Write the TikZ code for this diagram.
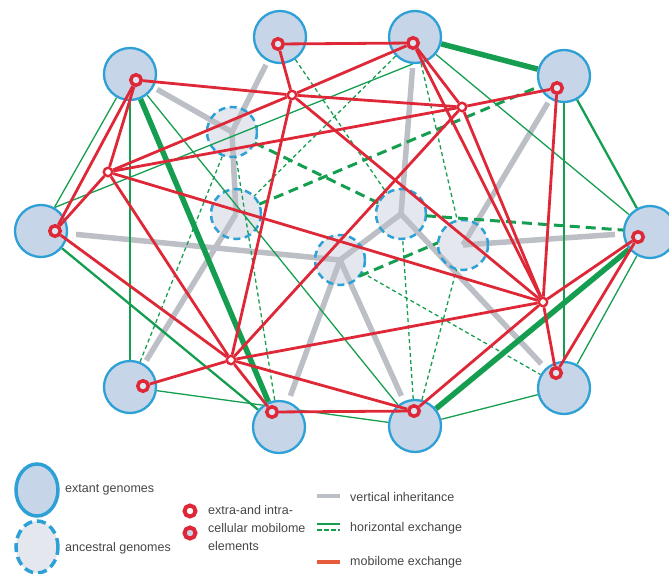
\documentclass[tikz,border=0pt]{standalone}
\usepackage{fontspec}
\setmainfont{Liberation Sans}
\usetikzlibrary{shapes.geometric}
\definecolor{mred}{RGB}{222,40,55}
\definecolor{hgreen}{RGB}{22,158,80}
\definecolor{vgray}{RGB}{188,191,197}
\definecolor{bblue}{RGB}{45,160,214}
\definecolor{extfill}{RGB}{198,213,232}
\definecolor{ancfill}{RGB}{228,232,238}
\definecolor{txtgray}{RGB}{70,70,70}
\definecolor{legred}{RGB}{232,90,60}
\pgfdeclarelayer{l0}\pgfdeclarelayer{l1}\pgfdeclarelayer{l2}\pgfdeclarelayer{l3}\pgfdeclarelayer{l4}\pgfdeclarelayer{l5}
\pgfsetlayers{l0,l1,l2,l3,l4,l5,main}
\begin{document}
\begin{tikzpicture}[x=1pt,y=-1pt,
  ext/.style={circle,draw=bblue,line width=2.3pt,fill=extfill,minimum size=52pt,inner sep=0pt},
  ancf/.style={circle,fill=ancfill,minimum size=50pt,inner sep=0pt},
  ancb/.style={circle,draw=bblue,line width=2.5pt,dash pattern=on 7pt off 4.5pt,minimum size=50pt,inner sep=0pt},
  ring/.style={circle,draw=mred,line width=3.5pt,fill=extfill!60!white,minimum size=10.5pt,inner sep=0pt},
  junc/.style={circle,draw=mred,line width=2.4pt,fill=white,minimum size=8.5pt,inner sep=0pt},
  vert/.style={vgray,line width=5.5pt},
  gthin/.style={hgreen,line width=1.3pt},
  gmid/.style={hgreen,line width=2.3pt},
  gthick/.style={hgreen,line width=5.5pt},
  gdash/.style={hgreen,line width=1.3pt,dash pattern=on 4pt off 3pt},
  gdashw/.style={hgreen,line width=3pt,dash pattern=on 10pt off 6pt},
  mob/.style={mred,line width=2.8pt},
  lab/.style={anchor=west,text=txtgray,font=\fontsize{12.5}{14}\selectfont,inner sep=0pt},
]
\useasboundingbox (0,0) rectangle (669,573);

% ancestral genome fills
\begin{pgfonlayer}{l0}
\node[ancf] (A1) at (232,132) {};
\node[ancf] (A2) at (236,214) {};
\node[ancf] (A3) at (340,260) {};
\node[ancf] (A4) at (401,214) {};
\node[ancf] (A5) at (463,245) {};
\end{pgfonlayer}

% extant genomes
\begin{pgfonlayer}{l4}
\node[ext] (E1) at (280,37) {};
\node[ext] (E2) at (415,37) {};
\node[ext] (E3) at (564,76) {};
\node[ext] (E4) at (130,74) {};
\node[ext] (E5) at (41,231) {};
\node[ext] (E6) at (650,232) {};
\node[ext] (E7) at (130,387) {};
\node[ext] (E8) at (279,427) {};
\node[ext] (E9) at (415,426) {};
\node[ext] (E10) at (564,388) {};
\end{pgfonlayer}

% ancestral borders
\begin{pgfonlayer}{l2}
\node[ancb] (A1b) at (A1) {};
\node[ancb] (A2b) at (A2) {};
\node[ancb] (A3b) at (A3) {};
\node[ancb] (A4b) at (A4) {};
\node[ancb] (A5b) at (A5) {};
\end{pgfonlayer}

% mobilome rings and junctions
\node[ring] (R1) at (278,44) {};
\node[ring] (R2) at (413,43) {};
\node[ring] (R3) at (557,88) {};
\node[ring] (R4) at (136,80) {};
\node[ring] (R5) at (55,231) {};
\node[ring] (R6) at (638,237) {};
\node[ring] (R7) at (143,386) {};
\node[ring] (R8) at (272,412) {};
\node[ring] (R9) at (414,411) {};
\node[ring] (R10) at (556,373) {};
\node[junc] (M1) at (292,95) {};
\node[junc] (M2) at (108,172) {};
\node[junc] (M3) at (462,107) {};
\node[junc] (M4) at (231,360) {};
\node[junc] (M5) at (543,302) {};

% vertical inheritance
\begin{pgfonlayer}{l1}
\draw[vert,shorten <=4pt] (E4) -- (A1.center);
\draw[vert,shorten <=4pt] (E1) -- (A1.center);
\draw[vert] (A1.center) -- (A2.center);
\draw[vert,shorten <=8pt] (E5) -- (A3.center);
\draw[vert,shorten <=4pt] (E7) -- (A2.center);
\draw[vert,shorten >=6pt] (A3.center) -- (E8);
\draw[vert,shorten >=6pt] (A3.center) -- (E9);
\draw[vert] (A3.center) -- (A4.center);
\draw[vert,shorten >=4pt] (A4.center) -- (E2);
\draw[vert,shorten >=4pt] (A5.center) -- (E3);
\draw[vert,shorten >=8pt] (A5.center) -- (E6);
\draw[vert,shorten >=6pt] (A4.center) -- (E10);
\end{pgfonlayer}

% horizontal exchange
\begin{pgfonlayer}{l3}
\draw[gthin] (E4) -- (E5);
\draw[gthin] (E7) -- (E9);
\draw[gthin] (E9) -- (E10);
\draw[gthin] (E10) -- (E6);
\draw[gthin] (E4) -- (E7);
\draw[gthin] (E3) -- (E10);
\draw[gthin] (E4) -- (E9);
\draw[gthin] (E2) -- (E6);
\draw[gthin] (E5.60) -- (E2.-95);
\draw[gmid] (E5) -- (E8);
\draw[gmid] (E6) -- (E3);
\draw[gthick] (E2) -- (E3);
\draw[gthick] (E4) -- (E8);
\draw[gthick] (E9) -- (E6);
\draw[gdash] (E1) -- (A4);
\draw[gdash] (E2) -- (A2);
\draw[gdash] (E7) -- (A1);
\draw[gdash] (E8) -- (A1);
\draw[gdash] (E9) -- (A4);
\draw[gdash] (E9) -- (A5);
\draw[gdash] (E2) -- (A5);
\draw[gdash] (A3) -- (E10);
\draw[gdashw] (A1) -- (A4);
\draw[gdashw] (A2) -- (E3);
\draw[gdashw] (A4) -- (E6);
\draw[gdashw] (A3.-40) -- (A5.175);
\end{pgfonlayer}

% mobilome exchange
\begin{pgfonlayer}{l5}
\draw[mob] (R1) -- (R2);
\draw[mob] (R1) -- (M1);
\draw[mob] (R4) -- (M1);
\draw[mob] (R4) -- (M2);
\draw[mob] (R4) -- (R5);
\draw[mob] (M2) -- (R5);
\draw[mob] (M2) -- (M1);
\draw[mob] (M1) -- (R2);
\draw[mob] (M1) -- (M3);
\draw[mob] (M2) -- (M3);
\draw[mob] (R2) -- (M3);
\draw[mob] (M3) -- (R3);
\draw[mob] (R3) -- (M5);
\draw[mob] (M5) -- (R10);
\draw[mob] (M3) -- (M4);
\draw[mob] (M3) -- (M5);
\draw[mob] (M1) -- (M4);
\draw[mob] (M2) -- (M4);
\draw[mob] (M1) -- (M5);
\draw[mob] (R2) -- (M5);
\draw[mob] (M2) -- (M5);
\draw[mob] (M5) -- (R6);
\draw[mob] (M5) -- (R9);
\draw[mob] (M5) -- (M4);
\draw[mob] (R6) -- (R10);
\draw[mob] (M4) -- (R7);
\draw[mob] (M4) -- (R8);
\draw[mob] (R5) -- (M4);
\draw[mob] (M4) -- (R9);
\draw[mob] (R8) -- (R9);
\end{pgfonlayer}

% legend
\node[ellipse,draw=bblue,line width=3.5pt,fill=extfill,minimum width=42pt,minimum height=52pt,inner sep=0pt] (LE) at (37,490) {};
\node[ellipse,draw=bblue,line width=3.5pt,dash pattern=on 9pt off 5pt,fill=ancfill,minimum width=42pt,minimum height=52pt,inner sep=0pt] (LA) at (37,547) {};
\node[lab] (LEt) at (65,490) {extant genomes};
\node[lab] (LAt) at (65,548) {ancestral genomes};
\node[circle,draw=mred,line width=4pt,fill=white,minimum size=11pt,inner sep=0pt] (LR1) at (190,511) {};
\node[circle,draw=mred,line width=4pt,fill=extfill,minimum size=11pt,inner sep=0pt] (LR2) at (190,533) {};
\node[lab] (LRt1) at (208,510) {extra-and intra-};
\node[lab] (LRt2) at (208,528) {cellular mobilome};
\node[lab] (LRt3) at (208,546) {elements};
\coordinate (Lv1) at (317,496); \coordinate (Lv2) at (340,496);
\draw[vert,line width=4.5pt] (Lv1) -- (Lv2);
\coordinate (Lh1) at (317,524); \coordinate (Lh2) at (340,524);
\draw[gthin] (Lh1) -- (Lh2);
\coordinate (Lh3) at (317,530); \coordinate (Lh4) at (340,530);
\draw[gdash,dash pattern=on 5pt off 2pt] (Lh3) -- (Lh4);
\coordinate (Lm1) at (317,562); \coordinate (Lm2) at (340,562);
\draw[legred,line width=4pt] (Lm1) -- (Lm2);
\node[lab] (Lvt) at (350,497) {vertical inheritance};
\node[lab] (Lht) at (350,528) {horizontal exchange};
\node[lab] (Lmt) at (350,562) {mobilome exchange};
\end{tikzpicture}
\end{document}
